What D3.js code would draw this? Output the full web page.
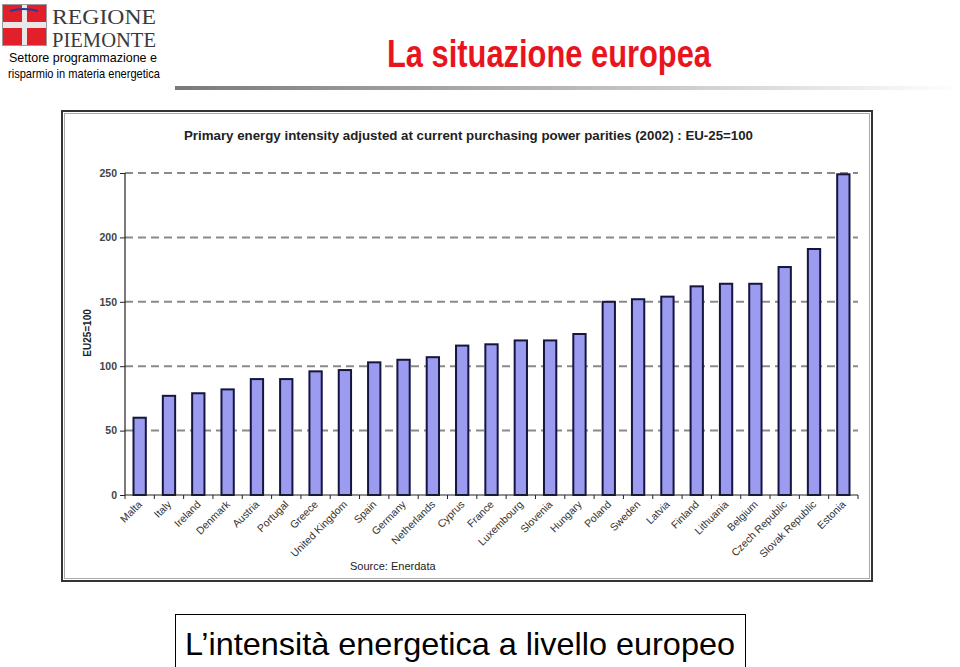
<!DOCTYPE html>
<html><head><meta charset="utf-8">
<script src="https://cdn.jsdelivr.net/npm/d3@7"></script>
<style>body{margin:0;background:#fff}svg{display:block}</style>
</head><body>
<script>
const countries = ["Malta","Italy","Ireland","Denmark","Austria","Portugal","Greece","United Kingdom","Spain","Germany","Netherlands","Cyprus","France","Luxembourg","Slovenia","Hungary","Poland","Sweden","Latvia","Finland","Lithuania","Belgium","Czech Republic","Slovak Republic","Estonia"];
const intensity = [60,77,79,82,90,90,96,97,103,105,107,116,117,120,120,125,150,152,154,162,164,164,177,191,249];
const yTicks = [0,50,100,150,200,250];

const W=960,H=667;
const svg=d3.select("body").append("svg").attr("width",W).attr("height",H)
  .style("font-family","'Liberation Sans', Arial, sans-serif");

// ---- header: logo ----
const logo=svg.append("g");
logo.append("rect").attr("x",2).attr("y",4).attr("width",45).attr("height",42).attr("fill","#9a9a9a");
[[3,5],[27,5],[3,28],[27,28]].forEach(([x,y])=>logo.append("rect").attr("x",x).attr("y",y).attr("width",19).attr("height",17).attr("fill","#e2202a"));
logo.append("rect").attr("x",22).attr("y",5).attr("width",5).attr("height",40).attr("fill","#e8e8e8");
logo.append("rect").attr("x",3).attr("y",22).attr("width",43).attr("height",6).attr("fill","#e8e8e8");
logo.append("path").attr("d","M10,11 Q24,7 38,11").attr("stroke","#2a3a9a").attr("stroke-width",2).attr("fill","none");
logo.append("text").attr("x",52).attr("y",24).attr("font-family","'Liberation Serif','DejaVu Serif',serif").attr("fill","#3a3a3a")
  .attr("font-size",21).attr("textLength",104).attr("lengthAdjust","spacingAndGlyphs").text("REGIONE");
logo.append("text").attr("x",52).attr("y",47).attr("font-family","'Liberation Serif','DejaVu Serif',serif").attr("fill","#3a3a3a")
  .attr("font-size",20).attr("textLength",104).attr("lengthAdjust","spacingAndGlyphs").text("PIEMONTE");
logo.append("text").attr("x",83).attr("y",62).attr("text-anchor","middle").attr("font-size",13).attr("fill","#000")
  .attr("textLength",148).attr("lengthAdjust","spacingAndGlyphs").text("Settore programmazione e");
logo.append("text").attr("x",84).attr("y",78).attr("text-anchor","middle").attr("font-size",13).attr("fill","#000")
  .attr("textLength",152).attr("lengthAdjust","spacingAndGlyphs").text("risparmio in materia energetica");

// title
svg.append("text").attr("x",387).attr("y",67).attr("font-size",38).attr("font-weight","bold").attr("fill","#e8141e")
  .attr("textLength",324).attr("lengthAdjust","spacingAndGlyphs").text("La situazione europea");

// separator gradient
const defs=svg.append("defs");
const grad=defs.append("linearGradient").attr("id","sep").attr("x1","0").attr("x2","1");
grad.append("stop").attr("offset","0").attr("stop-color","#7a7a7a");
grad.append("stop").attr("offset","0.5").attr("stop-color","#b8b8b8");
grad.append("stop").attr("offset","1").attr("stop-color","#ffffff");
svg.append("rect").attr("x",175).attr("y",86).attr("width",785).attr("height",4).attr("fill","url(#sep)");

// ---- chart frame ----
svg.append("rect").attr("x",62).attr("y",111).attr("width",810).attr("height",470).attr("fill","#fff").attr("stroke","#333").attr("stroke-width",2);
svg.append("rect").attr("x",64.5).attr("y",113.5).attr("width",805).attr("height",465).attr("fill","none").attr("stroke","#aaa").attr("stroke-width",1);

svg.append("text").attr("x",184).attr("y",140).attr("font-size",12.5).attr("font-weight","bold").attr("fill","#222")
  .attr("textLength",569).attr("lengthAdjust","spacingAndGlyphs")
  .text("Primary energy intensity adjusted at current purchasing power parities (2002) : EU-25=100");

const x=d3.scaleBand().domain(countries).range([125,858]).paddingInner(0.58).paddingOuter(0.29);
const y=d3.scaleLinear().domain([0,250]).range([495,173]);

// grid
svg.append("g").selectAll("line").data(yTicks.filter(d=>d>0)).join("line")
  .attr("x1",125).attr("x2",858).attr("y1",d=>y(d)).attr("y2",d=>y(d))
  .attr("stroke","#8a8a8a").attr("stroke-width",2).attr("stroke-dasharray","8,5");

// y axis
const yAx=svg.append("g").attr("transform","translate(125,0)")
  .call(d3.axisLeft(y).tickValues(yTicks).tickSize(5).tickPadding(3));
yAx.select(".domain").attr("stroke","#222").attr("stroke-width",1.2).attr("d","M0,173V495");
yAx.selectAll(".tick line").attr("stroke","#222");
yAx.selectAll("text").attr("font-size",10.5).attr("font-weight","bold").attr("fill","#444").attr("font-family","'Liberation Sans', Arial, sans-serif");

svg.append("text").attr("transform","translate(91,333) rotate(-90)").attr("text-anchor","middle")
  .attr("font-size",10).attr("font-weight","bold").attr("fill","#222").text("EU25=100");

// bars
svg.append("g").selectAll("rect").data(countries).join("rect")
  .attr("x",d=>x(d)).attr("width",x.bandwidth())
  .attr("y",(d,i)=>y(intensity[i])).attr("height",(d,i)=>y(0)-y(intensity[i]))
  .attr("fill","#9b9bf0").attr("stroke","#15153f").attr("stroke-width",2);

// x axis
const step=x.step();
svg.append("line").attr("x1",125).attr("x2",858).attr("y1",495).attr("y2",495).attr("stroke","#222").attr("stroke-width",1.2);
svg.append("g").selectAll("line").data(d3.range(countries.length+1)).join("line")
  .attr("x1",i=>125+i*step).attr("x2",i=>125+i*step).attr("y1",495).attr("y2",499).attr("stroke","#222");

svg.append("g").selectAll("text").data(countries).join("text")
  .attr("transform",d=>`translate(${x(d)+x.bandwidth()/2+3},${505}) rotate(-45)`)
  .attr("text-anchor","end").attr("font-size",10.5).attr("fill","#333").text(d=>d);

svg.append("text").attr("x",350).attr("y",570).attr("font-size",11).attr("fill","#222").text("Source: Enerdata");

// ---- bottom caption ----
svg.append("rect").attr("x",175.5).attr("y",614.5).attr("width",570).attr("height",60).attr("fill","#fff").attr("stroke","#000").attr("stroke-width",1);
svg.append("text").attr("x",185).attr("y",655).attr("font-size",32).attr("fill","#000")
  .attr("textLength",550).attr("lengthAdjust","spacingAndGlyphs").text("L’intensità energetica a livello europeo");
</script>
</body></html>
